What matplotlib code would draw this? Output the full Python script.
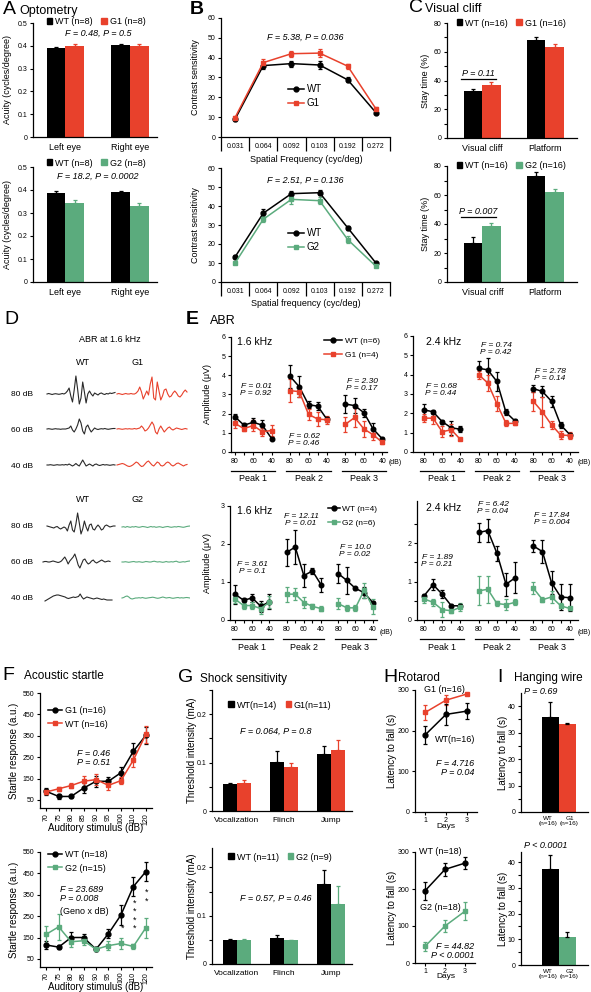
import matplotlib

matplotlib.use("Agg")
import matplotlib.pyplot as plt
import numpy as np
from matplotlib.lines import Line2D
from matplotlib.patches import Patch
from matplotlib.transforms import blended_transform_factory

W, H = 591, 992
RED = "#e8412c"
GREEN = "#5bab7d"
TRACE_WT = "#2a2a2a"

# ---- A: optometry (acuity, cycles/degree)
A_GROUPS = ["Left eye", "Right eye"]
A1_WT, A1_WT_ERR = [0.39, 0.405], [0.006, 0.004]
A1_G1, A1_G1_ERR = [0.40, 0.40], [0.007, 0.006]
A2_WT, A2_WT_ERR = [0.387, 0.39], [0.008, 0.005]
A2_G2, A2_G2_ERR = [0.342, 0.33], [0.015, 0.015]

# ---- B: contrast sensitivity
SF_LABELS = ["0.031", "0.064", "0.092", "0.103", "0.192", "0.272"]
B1_WT, B1_WT_ERR = [9, 36, 37, 36.3, 28.8, 12.3], [0.8, 1.5, 1.5, 1.8, 1.3, 0.8]
B1_G1, B1_G1_ERR = [9.8, 37.5, 42, 42.3, 35.7, 14.2], [1, 2, 1.5, 2, 1.3, 1]
B2_WT, B2_WT_ERR = [13.2, 36.2, 46.5, 47, 28.5, 10], [0.8, 2, 1.5, 1.2, 1.2, 0.6]
B2_G2, B2_G2_ERR = [10, 33, 43.5, 42.8, 22.3, 8.3], [0.6, 1.5, 2.2, 1.8, 1.8, 0.6]

# ---- C: visual cliff (stay time %)
C1_GROUPS = ["Visual cliff", "Platform"]
C2_GROUPS = ["Visual criff", "Platform"]
C1_WT, C1_WT_ERR = [32.5, 68.5], [1.5, 1.5]
C1_G1, C1_G1_ERR = [36.8, 63.5], [2, 2]
C2_WT, C2_WT_ERR = [27, 73], [4, 3]
C2_G2, C2_G2_ERR = [38.5, 62], [2, 2]

# ---- D: ABR traces at 1.6 kHz (arbitrary units, baseline 0)
WT_80A = [0, 0.5, 0, -0.5, 0, 0.3, 0, -0.3, 0, 0.5, 0, 1, 3, 6, -2, -8, 4, 18, 5, -10, -4,
          12, 2, -9, 0, 3, 0, -2, 1, 0, -1, 0.5, 1, 0, -0.5, 0.5, 0, 1, 0.5, 1, 1.5]
G1_80A = [0, 0.5, 0, -0.5, 0, 0.5, 0, 0, 0.5, 0, 0, 1, 3, 7, 2, -5, -1, 3, -1, 10, 17,
          -4, -6, 12, 3, -6, -2, 4, 5, 0, -3, -2, 1, 3, 1, -2, -3, -1, 2, 4, 2]
WT_60A = [0, 0.3, 0, -0.3, 0, 0.3, 0, 0, -0.3, 0, 0, 0, 0.5, 1, 3, -1, -3, 0, 4, 10, 6,
          -2, -5, 2, 4, 0, -3, -1, 1, 0, -0.5, 0, 0.3, 0, 0.5, 0, -0.3, 0, 0.3, 0.5, 0.5]
G1_60A = [0, 0.3, 0, -0.3, 0, 0.3, 0, 0.3, 0, 0, 0.5, 0, 0.5, 1, 3, 1, -2, -1, 1, 4, 7,
          4, -3, -5, 0, 3, 0, -3, -1, 1, 2, 0, -1, 0, 1, 0.5, 0, -0.5, 0, 0.5, 0]
WT_40A = [0, 0, 0.3, 0, -0.3, 0, 0.3, 0, 0, 0.3, 0, 0.5, 0, 1, 0, -1, 0, 1.5, 0, -1, 2,
          5, 2, -1, 0, 1, 0, -1, 0.5, 1, 0, -0.5, 0, 0.5, 0, 0.3, 0, -0.3, 0, 0.3, 0]
G1_40A = [0, 0.5, 1, 1.5, 1, 0, -1, -1.5, -1, 0, 1.5, 3, 2, 0, -1.5, -1, 1, 3, 4, 2, 0,
          -1, 1, 3, 2, -0.5, -1, 0, 2, 3, 2, 0, -1, 0, 1.5, 2, 1, 0, -1, 0, 0.5]
WT_80B = [1, 0.5, 0, -0.5, -1, 0, 0.5, -1, -2, -1, 0, -1, -4, 2, 6, -3, -5, 3, 14, 4, -7,
          -2, 6, 0, -4, 2, 3, -2, -3, 0, 2, 0, -3, -2, 1, 2, 1, 0, 0.5, 1, 1]
G2_80B = [0, 0.3, -0.3, 0.5, 0, -0.3, 0.3, 0, 0.5, 0, -0.3, 0, 0.5, 0.3, 0, -0.5, 0, 0.5, 0, 0.3, -0.3,
          0, 0.3, 0, -0.5, 0, 0.3, 0.5, 0, -0.3, 0, 0.3, 0, 0.5, 0.3, 0, -0.3, 0, 0.5, 0.8, 1]
WT_60B = [0, 0.5, 0.5, 0, 0, 0.5, 1, 0.5, 0, -0.5, 0, 1, 3, 5, 2, -2, 1, 3, 5, 8, 3,
          -3, -6, -2, 2, 3, 0, -2, -1, 1, 2, 0, -1, 0, 1, 2, 1, 0, 0.5, 1, 0.5]
G2_60B = [0, 0, 0.3, 0, -0.3, 0, 0.3, 0.5, 0, 0, 0.3, 0, -0.3, 0, 0.5, 0.3, 0, 0, 0.5, 0.8, 0.3,
          0, 0.3, 0, -0.3, 0, 0.5, 0, 0, 0.3, 0, 0.5, 0.8, 0, -0.3, 0, 0.3, 0, 0.5, 0.8, 1]
WT_40B = [-3, -2, -1, 0, 1, 2, 2.5, 3, 3, 2.5, 2, 1.5, 1, 0, -0.5, 0, 0.5, 1, 0.5, 1, 1.5,
          4, 1, -1, 0, 1, 0.5, 0, -0.5, -1, -0.5, 0, -0.5, -1, -1.5, -1, -1.5, -2, -2, -2, -2]
G2_40B = [0, 0.5, 1.5, 2, 1, -0.5, -1, -0.5, 0, 0, 0.3, 0, 0.5, 0, -0.3, 0, 0.3, 0.5, 0.8, 0.5, 0,
          -0.3, 0, 0.5, 1, 0.5, 0, 0.3, 0.5, 0, -0.3, 0, 0.3, 0.5, 0, 0.3, 0, 0.3, 0.5, 0.3, 0]

# ---- E: ABR peak amplitudes (uV); 3 peaks x (80, 70, 60, 50, 40 dB)
DB_TICKS = ["80", "", "60", "", "40"]
E1_WT = [1.85, 1.4, 1.55, 1.4, 0.7, 3.95, 3.4, 2.47, 2.39, 1.7, 2.5, 2.42, 2.05, 1.2, 0.68]
E1_WT_ERR = [0.15, 0.1, 0.2, 0.25, 0.1, 0.6, 0.55, 0.2, 0.2, 0.15, 0.45, 0.4, 0.2, 0.3, 0.1]
E1_G1 = [1.5, 1.22, 1.38, 1.06, 1.12, 3.2, 3.15, 1.96, 1.72, 1.68, 1.45, 1.8, 1.2, 0.9, 0.5]
E1_G1_ERR = [0.25, 0.15, 0.3, 0.2, 0.3, 0.6, 0.3, 0.3, 0.35, 0.2, 0.4, 0.5, 0.4, 0.25, 0.1]
E2_WT = [2.18, 2.08, 1.57, 1.25, 1.18, 4.33, 4.25, 3.65, 2.05, 1.6, 3.28, 3.13, 2.62, 1.4, 0.9]
E2_WT_ERR = [0.3, 0.1, 0.1, 0.35, 0.15, 0.4, 0.6, 0.5, 0.15, 0.1, 0.2, 0.3, 0.3, 0.15, 0.1]
E2_G1 = [1.75, 1.75, 1.05, 1.15, 0.65, 4.0, 3.57, 2.5, 1.48, 1.48, 2.62, 2.07, 1.4, 0.88, 0.85]
E2_G1_ERR = [0.2, 0.3, 0.3, 0.3, 0.05, 0.2, 0.4, 0.4, 0.15, 0.1, 0.5, 0.8, 0.2, 0.2, 0.2]
E3_WT = [0.68, 0.52, 0.58, 0.36, 0.48, 1.78, 1.92, 1.17, 1.29, 0.93, 1.22, 1.04, 0.83, 0.72, 0.46]
E3_WT_ERR = [0.25, 0.05, 0.1, 0.15, 0.2, 0.35, 0.45, 0.3, 0.07, 0.18, 0.25, 0.35, 0.05, 0.15, 0.05]
E3_G2 = [0.55, 0.38, 0.38, 0.3, 0.47, 0.68, 0.68, 0.46, 0.36, 0.3, 0.43, 0.32, 0.32, 0.78, 0.35]
E3_G2_ERR = [0.1, 0.08, 0.1, 0.15, 0.15, 0.2, 0.15, 0.15, 0.07, 0.07, 0.15, 0.07, 0.07, 0.2, 0.2]
E4_WT = [0.63, 0.92, 0.67, 0.37, 0.37, 2.28, 2.33, 1.74, 0.93, 1.1, 1.93, 1.78, 0.97, 0.6, 0.58]
E4_WT_ERR = [0.05, 0.15, 0.1, 0.04, 0.05, 0.25, 0.3, 0.2, 0.3, 0.4, 0.15, 0.3, 0.3, 0.35, 0.35]
E4_G2 = [0.55, 0.46, 0.27, 0.24, 0.33, 0.76, 0.8, 0.43, 0.4, 0.46, 0.83, 0.53, 0.6, 0.37, 0.3]
E4_G2_ERR = [0.1, 0.1, 0.2, 0.05, 0.1, 0.38, 0.35, 0.07, 0.15, 0.08, 0.15, 0.07, 0.15, 0.07, 0.05]

# ---- F: acoustic startle
STIM_LABELS = ["70", "75", "80", "85", "90", "95", "100", "110", "120"]
F1_G1, F1_G1_ERR = [90, 66, 66, 105, 137, 137, 177, 277, 352], [15, 10, 8, 25, 25, 20, 25, 40, 40]
F1_WT, F1_WT_ERR = [87, 102, 117, 137, 145, 118, 140, 236, 356], [10, 10, 10, 25, 25, 20, 15, 30, 40]
F2_WT, F2_WT_ERR = [115, 105, 150, 150, 95, 168, 255, 388, 458], [20, 8, 25, 15, 10, 20, 45, 45, 45]
F2_G2, F2_G2_ERR = [165, 200, 130, 135, 95, 112, 122, 108, 195], [40, 60, 25, 20, 10, 20, 25, 12, 45]

# ---- G: shock sensitivity (mA)
G_GROUPS = ["Vocalization", "Flinch", "Jump"]
G1_WT, G1_WT_ERR = [0.055, 0.101, 0.117], [0.003, 0.024, 0.017]
G1_G1, G1_G1_ERR = [0.058, 0.091, 0.127], [0.006, 0.009, 0.02]
G2_WT, G2_WT_ERR = [0.049, 0.054, 0.165], [0.002, 0.005, 0.03]
G2_G2, G2_G2_ERR = [0.049, 0.049, 0.125], [0.002, 0.001, 0.037]

# ---- H: rotarod latency (s)
DAYS = [1, 2, 3]
H1_G1, H1_G1_ERR = [245, 275, 290], [18, 12, 3]
H1_WT, H1_WT_ERR = [190, 240, 248], [22, 25, 20]
H2_WT, H2_WT_ERR = [195, 253, 270], [25, 18, 17]
H2_G2, H2_G2_ERR = [45, 100, 140], [12, 15, 25]

# ---- I: hanging wire latency (s)
I1_LABELS = ["WT\n(n=16)", "G1\n(n=16)"]
I2_LABELS = ["WT\n(n=16)", "G2\n(n=16)"]
I1_VALS, I1_ERR = [36, 33.2], [5.5, 0.3]
I2_VALS, I2_ERR = [37.5, 10.8], [5.5, 2.2]

plt.rcParams["font.family"] = ["Liberation Sans", "DejaVu Sans"]
plt.rcParams["axes.linewidth"] = 0.9

fig = plt.figure(figsize=(W / 100, H / 100), dpi=100)


def add_ax(x0, y0, x1, y1):
    ax = fig.add_axes([x0 / W, 1 - y1 / H, (x1 - x0) / W, (y1 - y0) / H])
    ax.spines[["top", "right"]].set_visible(False)
    ax.tick_params(labelsize=5, length=2.5, width=0.8, pad=1.5)
    ax.tick_params(which="minor", length=2, width=0.8)
    return ax


def ftext(x, y, s, size=6.5, **kw):
    kw.setdefault("ha", "center")
    kw.setdefault("va", "center")
    fig.text(x / W, 1 - y / H, s, fontsize=size, **kw)


def fanchor(x, y):
    return (x / W, 1 - y / H)


def bar_pair(ax, a, a_err, b, b_err, color, width):
    x = np.arange(len(a))
    ekw = dict(elinewidth=0.9, capsize=1.5, capthick=0.9)
    ax.bar(x - width / 2, a, width, color="black", yerr=[np.zeros(len(a)), a_err],
           error_kw=dict(ecolor="black", **ekw))
    ax.bar(x + width / 2, b, width, color=color, yerr=[np.zeros(len(b)), b_err],
           error_kw=dict(ecolor=color, **ekw))


def bar_legend(ax, labels, color, x, y, size=6.5):
    handles = [Patch(color="black"), Patch(color=color)]
    ax.legend(handles, labels, ncol=2, loc="center", bbox_to_anchor=fanchor(x, y),
              bbox_transform=fig.transFigure, frameon=False, fontsize=size,
              handlelength=0.6, handleheight=0.6, handletextpad=0.3,
              columnspacing=1.0, borderpad=0, borderaxespad=0)


def err_line(ax, x, y, e, color, marker, ms=3.5):
    ax.errorbar(x, y, yerr=e, color=color, marker=marker, ms=ms, mec=color, lw=1.1,
                elinewidth=0.9, capsize=1.3, capthick=0.9)


def line_legend(ax, entries, x, y, size=6.5, spacing=0.45, hl=1.6):
    handles = [Line2D([], [], color=c, marker=m, ms=3.5, lw=1.1) for c, m, _ in entries]
    labels = [t for _, _, t in entries]
    ax.legend(handles, labels, loc="upper left", bbox_to_anchor=fanchor(x, y),
              bbox_transform=fig.transFigure, frameon=False, fontsize=size,
              handlelength=hl, handletextpad=0.3, labelspacing=spacing,
              borderpad=0, borderaxespad=0)


# ================= A =================
ftext(3, 10, "A", size=14, ha="left")
ftext(19, 11, "Optometry", size=9, ha="left")
for box, wt, wte, mu, mue, color, labels, ftxt, leg_y, f_y in [
    ((33, 23, 157, 137), A1_WT, A1_WT_ERR, A1_G1, A1_G1_ERR, RED,
     ["WT (n=8)", "G1 (n=8)"], "F = 0.48, P = 0.5", 22, 33),
    ((33, 167, 157, 282), A2_WT, A2_WT_ERR, A2_G2, A2_G2_ERR, GREEN,
     ["WT (n=8)", "G2 (n=8)"], "F = 18.2, P = 0.0002", 163, 176),
]:
    ax = add_ax(*box)
    bar_pair(ax, wt, wte, mu, mue, color, 0.29)
    ax.set_xlim(-0.5, 1.42)
    ax.set_ylim(0, 0.5)
    ax.set_yticks([0, 0.1, 0.2, 0.3, 0.4, 0.5], ["0", "0.1", "0.2", "0.3", "0.4", "0.5"])
    ax.set_xticks([0, 1], A_GROUPS, fontsize=6.5)
    ax.tick_params(axis="x", length=0, pad=4)
    bar_legend(ax, labels, color, 96, leg_y)
    ftext(98, f_y, ftxt, size=6.5, style="italic")
    ftext(8, (box[1] + box[3]) / 2, "Acuity (cycles/degree)", rotation=90)

# ================= B =================
ftext(190, 9, "B", size=14, ha="left", weight="bold")
for box, wt, wte, mu, mue, color, mlabel, ftxt, f_y, leg_y, xlab in [
    ((221, 18, 390, 137), B1_WT, B1_WT_ERR, B1_G1, B1_G1_ERR, RED, "G1",
     "F = 5.38, P = 0.036", 37, 84, "Spatial Frequency (cyc/deg)"),
    ((221, 168, 390, 282), B2_WT, B2_WT_ERR, B2_G2, B2_G2_ERR, GREEN, "G2",
     "F = 2.51, P = 0.136", 180, 228, "Spatial frequency (cyc/deg)"),
]:
    ax = add_ax(*box)
    x = np.arange(len(SF_LABELS))
    err_line(ax, x, wt, wte, "black", "o")
    err_line(ax, x, mu, mue, color, "s")
    ax.set_xlim(-0.5, 5.5)
    ax.set_ylim(0, 60)
    ax.set_yticks(np.arange(0, 61, 10))
    ax.set_xticks(np.arange(-0.5, 6, 1), [""] * 7)
    ax.tick_params(axis="x", which="major", length=10, width=0.9)
    ax.set_xticks(x, SF_LABELS, minor=True)
    ax.tick_params(axis="x", which="minor", length=0, pad=4, labelsize=5)
    line_legend(ax, [("black", "o", "WT"), (color, "s", mlabel)], 288, leg_y, size=7)
    ftext(305, f_y, ftxt, size=6.5, style="italic")
    ftext(306, box[3] + 22, xlab, size=6.5)
    ftext(196, (box[1] + box[3]) / 2, "Contrast sensitivity", rotation=90)

# ================= C =================
ftext(409, 8, "C", size=14, ha="left")
ftext(425, 9, "Visual cliff", size=9, ha="left")
for box, wt, wte, mu, mue, color, groups, labels, ptxt, p_y in [
    ((447, 23, 577, 138), C1_WT, C1_WT_ERR, C1_G1, C1_G1_ERR, RED, C1_GROUPS,
     ["WT (n=16)", "G1 (n=16)"], "P = 0.11", 41),
    ((447, 166, 577, 282), C2_WT, C2_WT_ERR, C2_G2, C2_G2_ERR, GREEN, C2_GROUPS,
     ["WT (n=16)", "G2 (n=16)"], "P = 0.007", 45),
]:
    ax = add_ax(*box)
    bar_pair(ax, wt, wte, mu, mue, color, 0.29)
    ax.set_xlim(-0.56, 1.5)
    ax.set_ylim(0, 80)
    ax.set_yticks([0, 20, 40, 60, 80])
    ax.set_yticks([10, 30, 50, 70], minor=True)
    ax.set_xticks([0, 1], groups, fontsize=6.5)
    ax.tick_params(axis="x", length=0, pad=4)
    ax.plot([-0.34, 0.22], [p_y, p_y], color="black", lw=0.9)
    ax.text(-0.06, p_y + 0.8, ptxt, ha="center", va="bottom", fontsize=6.5, style="italic")
    bar_legend(ax, labels, color, 511, box[1])
    ftext(425, (box[1] + box[3]) / 2, "Stay time (%)", rotation=90)

# ================= D =================
ftext(4, 320, "D", size=14, ha="left")
axd = fig.add_axes([0, 1 - 660 / H, 190 / W, 345 / H])
axd.axis("off")
axd.set_xlim(0, 190)
axd.set_ylim(660, 315)
traces = [
    (WT_80A, 47, 115, 394, TRACE_WT), (WT_60A, 47, 115, 429, TRACE_WT), (WT_40A, 47, 115, 465, TRACE_WT),
    (G1_80A, 117, 187, 394, RED), (G1_60A, 117, 187, 429, RED), (G1_40A, 117, 187, 465, RED),
    (WT_80B, 47, 115, 527, TRACE_WT), (WT_60B, 43, 110, 562, TRACE_WT), (WT_40B, 45, 112, 598, TRACE_WT),
    (G2_80B, 122, 190, 527, GREEN), (G2_60B, 122, 190, 562, GREEN), (G2_40B, 122, 190, 598, GREEN),
]
for vals, xa, xb, base, col in traces:
    v = np.asarray(vals, dtype=float)
    axd.plot(np.linspace(xa, xb, len(v)), base - v, color=col, lw=0.8)
ftext(110, 340, "ABR at 1.6 kHz", size=6.5)
for yy, lab in [(362, ("WT", "G1")), (500, ("WT", "G2"))]:
    ftext(83, yy, lab[0], size=6.5)
    ftext(138, yy, lab[1], size=6.5)
for yy, lab in [(395, "80 dB"), (430, "60 dB"), (466, "40 dB"), (527, "80 dB"), (562, "60 dB"), (598, "40 dB")]:
    ftext(22, yy, lab, size=6)

# ================= E =================
ftext(186, 320, "E", size=14, ha="left", weight="bold")
ftext(210, 321, "ABR", size=9, ha="left")


def abr_panel(box, xlim, ylim, yticks, wt, wte, mu, mue, color):
    ax = add_ax(*box)
    for g in range(3):
        xs = g * 6 + np.arange(5)
        sl = slice(g * 5, g * 5 + 5)
        err_line(ax, xs, wt[sl], wte[sl], "black", "o", ms=3.3)
        err_line(ax, xs, mu[sl], mue[sl], color, "s", ms=3.3)
    ax.set_xlim(*xlim)
    ax.set_ylim(*ylim)
    ax.set_yticks(yticks)
    allx = np.concatenate([g * 6 + np.arange(5) for g in range(3)])
    ax.set_xticks(allx, DB_TICKS * 3, fontsize=5)
    tr = blended_transform_factory(ax.transData, ax.transAxes)
    h = box[3] - box[1]
    for g in range(3):
        ax.plot([g * 6 - 0.4, g * 6 + 4.4], [-19 / h] * 2, color="black", lw=0.9,
                transform=tr, clip_on=False)
        ax.text(g * 6 + 2, -27 / h, f"Peak {g + 1}", transform=tr, ha="center",
                va="center", fontsize=6.5)
    return ax


ax = abr_panel((231, 337, 387, 452), (-0.4, 16.5), (0, 6), range(0, 7), E1_WT, E1_WT_ERR, E1_G1, E1_G1_ERR, RED)
line_legend(ax, [("black", "o", "WT (n=6)"), (RED, "s", "G1 (n=4)")], 324, 337, size=6, spacing=0.75, hl=2.2)
ftext(255, 342, "1.6 kHz", size=7.5)
ftext(256, 390, "F = 0.01\nP = 0.92", size=6, style="italic", linespacing=1.0)
ftext(362, 385, "F = 2.30\nP = 0.17", size=6, style="italic", linespacing=1.0)
ftext(304, 440, "F = 0.62\nP = 0.46", size=6, style="italic", linespacing=1.0)
ftext(395, 462, "(dB)", size=5)

ax = abr_panel((413, 336, 578, 452), (-1.2, 16.9), (0, 6), range(0, 7), E2_WT, E2_WT_ERR, E2_G1, E2_G1_ERR, RED)
ftext(444, 342, "2.4 kHz", size=7.5)
ftext(441, 390, "F = 0.68\nP = 0.44", size=6, style="italic", linespacing=1.0)
ftext(496, 349, "F = 0.74\nP = 0.42", size=6, style="italic", linespacing=1.0)
ftext(550, 375, "F = 2.78\nP = 0.14", size=6, style="italic", linespacing=1.0)
ftext(584, 462, "(dB)", size=5)

ax = abr_panel((230, 506, 377, 620), (-0.58, 16.5), (0, 3), range(0, 4), E3_WT, E3_WT_ERR, E3_G2, E3_G2_ERR, GREEN)
line_legend(ax, [("black", "o", "WT (n=4)"), (GREEN, "s", "G2 (n=6)")], 328, 505, size=6, spacing=0.75, hl=1.4)
ftext(255, 511, "1.6 kHz", size=7.5)
ftext(301, 520, "F = 12.11\nP = 0.01", size=6, style="italic", linespacing=1.0)
ftext(252, 568, "F = 3.61\nP = 0.1", size=6, style="italic", linespacing=1.0)
ftext(355, 551, "F = 10.0\nP = 0.02", size=6, style="italic", linespacing=1.0)
ftext(386, 632, "(dB)", size=5)

ax = abr_panel((417, 501, 578, 620), (-0.77, 16.9), (0, 3.1), [0, 1, 2], E4_WT, E4_WT_ERR, E4_G2, E4_G2_ERR, GREEN)
ax.set_yticks([0.5, 1.5, 2.5], minor=True)
ftext(444, 508, "2.4 kHz", size=7.5)
ftext(493, 508, "F = 6.42\nP = 0.04", size=6, style="italic", linespacing=1.0)
ftext(552, 519, "F = 17.84\nP = 0.004", size=6, style="italic", linespacing=1.0)
ftext(437, 561, "F = 1.89\nP = 0.21", size=6, style="italic", linespacing=1.0)
ftext(584, 632, "(dB)", size=5)

ftext(207, 394, "Amplitude (\u03bcV)", rotation=90)
ftext(207, 563, "Amplitude (\u03bcV)", rotation=90)

# ================= F =================
ftext(2, 675, "F", size=14, ha="left")
ftext(24, 676, "Acoustic startle", size=8.5, ha="left")
for box, s1, e1, c1, m1, l1, s2, e2, c2, m2, l2, leg_y in [
    ((40, 693, 152, 808), F1_G1, F1_G1_ERR, "black", "o", "G1 (n=16)",
     F1_WT, F1_WT_ERR, RED, "s", "WT (n=16)", 706),
    ((40, 852, 152, 967), F2_WT, F2_WT_ERR, "black", "o", "WT (n=18)",
     F2_G2, F2_G2_ERR, GREEN, "s", "G2 (n=15)", 850),
]:
    ax = add_ax(*box)
    x = np.arange(len(STIM_LABELS))
    err_line(ax, x, s1, e1, c1, m1)
    err_line(ax, x, s2, e2, c2, m2)
    ax.set_xlim(-0.5, 8.5)
    ax.set_ylim(12, 550)
    ax.set_yticks(np.arange(50, 551, 100))
    ax.set_xticks(x, STIM_LABELS, rotation=90, fontsize=5)
    ax.tick_params(axis="x", pad=1)
    line_legend(ax, [(c1, m1, l1), (c2, m2, l2)], 48, leg_y, size=6.5, spacing=0.5)
    ftext(96, box[3] + 20, "Auditory stimulus (dB)", size=7)
    ftext(14, (box[1] + box[3]) / 2, "Startle response (a.u.)", rotation=90, size=7)
    if box[1] < 800:
        ftext(77, 758, "F = 0.46\nP = 0.51", size=6.5, style="italic", ha="left", linespacing=1.0)
    else:
        ftext(60, 894, "F = 23.689\nP = 0.008", size=6.5, style="italic", ha="left", linespacing=1.0)
        ftext(60, 911, "(Geno x dB)", size=6.5, ha="left")
        for xi, ys in [(6, [192]), (7, [312, 272, 232, 192]), (8, [362, 318])]:
            for yv in ys:
                ax.text(xi + 0.1, yv, "*", ha="center", va="center", fontsize=6.5)

# ================= G =================
ftext(178, 678, "G", size=14, ha="left")
ftext(200, 679, "Shock sensitivity", size=8.5, ha="left")
for box, wt, wte, mu, mue, color, labels, ftxt, f_y, leg_y, top in [
    ((212, 690, 352, 811), G1_WT, G1_WT_ERR, G1_G1, G1_G1_ERR, RED,
     ["WT(n=14)", "G1(n=11)"], "F = 0.064, P = 0.8", 731, 705, 0.25),
    ((212, 848, 352, 964), G2_WT, G2_WT_ERR, G2_G2, G2_G2_ERR, GREEN,
     ["WT (n=11)", "G2 (n=9)"], "F = 0.57, P = 0.46", 898, 857, 0.24),
]:
    ax = add_ax(*box)
    bar_pair(ax, wt, wte, mu, mue, color, 0.3)
    ax.set_xlim(-0.53, 2.45)
    ax.set_ylim(0, top)
    ax.set_yticks([0, 0.1, 0.2], ["0", "0.1", "0.2"])
    ax.set_yticks([0.05, 0.15, 0.25] if top >= 0.25 else [0.05, 0.15], minor=True)
    ax.set_xticks([0, 1, 2], G_GROUPS, fontsize=6)
    ax.tick_params(axis="x", length=0, pad=4)
    bar_legend(ax, labels, color, 280, leg_y, size=6.5)
    ftext(276, f_y, ftxt, size=6.5, style="italic")
    ftext(192, (box[1] + box[3]) / 2, "Threshold intensity (mA)", rotation=90, size=7)

# ================= H =================
ftext(383, 677, "H", size=14, ha="left")
ftext(398, 678, "Rotarod", size=8.5, ha="left")
for box, s1, e1, c1, m1, s2, e2, c2, m2 in [
    ((415, 690, 477, 812), H1_G1, H1_G1_ERR, RED, "s", H1_WT, H1_WT_ERR, "black", "o"),
    ((415, 852, 475, 963), H2_WT, H2_WT_ERR, "black", "o", H2_G2, H2_G2_ERR, GREEN, "s"),
]:
    ax = add_ax(*box)
    err_line(ax, DAYS, s1, e1, c1, m1)
    err_line(ax, DAYS, s2, e2, c2, m2)
    ax.set_xlim(0.5, 3.5)
    ax.set_ylim(0, 300)
    ax.set_yticks([0, 100, 200, 300])
    ax.set_xticks(DAYS)
    ax.tick_params(axis="x", pad=1)
    ftext(446, box[3] + 14, "Days", size=6)
    ftext(392, (box[1] + box[3]) / 2, "Latency to fall (s)", rotation=90, size=7)
ftext(444, 689, "G1 (n=16)", size=6.5)
ftext(455, 740, "WT(n=16)", size=6.5)
ftext(474, 768, "F = 4.716\nP = 0.04", size=6.5, style="italic", ha="right", linespacing=1.0)
ftext(440, 852, "WT (n=18)", size=6.5)
ftext(440, 907, "G2 (n=18)", size=6.5)
ftext(474, 951, "F = 44.82\nP < 0.0001", size=6.5, style="italic", ha="right", linespacing=1.0)

# ================= I =================
ftext(497, 677, "I", size=14, ha="left")
ftext(514, 678, "Hanging wire", size=8.5, ha="left")
for box, vals, errs, color, labels, ptxt, p_y, top in [
    ((521, 693, 588, 812), I1_VALS, I1_ERR, RED, I1_LABELS, "P = 0.69", 692, 45),
    ((521, 852, 588, 965), I2_VALS, I2_ERR, GREEN, I2_LABELS, "P < 0.0001", 845, 44),
]:
    ax = add_ax(*box)
    ax.bar([0, 1], vals, 1.0, color=["black", color],
           yerr=[np.zeros(2), errs], ecolor="black",
           error_kw=dict(elinewidth=0.9, capsize=1.5, capthick=0.9))
    ax.set_xlim(-1.7, 2.2)
    ax.set_ylim(0, top)
    ax.set_yticks([0, 10, 20, 30, 40])
    ax.set_yticks([5, 15, 25, 35], minor=True)
    ax.set_xticks([0, 1], ["", ""])
    ax.tick_params(axis="x", length=0)
    trx = blended_transform_factory(ax.transData, ax.transAxes)
    for xi, lab in zip([-0.12, 1.12], labels):
        ax.text(xi, -4 / (box[3] - box[1]), lab, transform=trx, ha="center", va="top",
                fontsize=4.6, linespacing=1.0)
    ftext(524, p_y, ptxt, size=6.5, style="italic", ha="left")
    ftext(503, (box[1] + box[3]) / 2, "Latency to fall (s)", rotation=90, size=7)

fig.savefig("out.png", dpi=100)
